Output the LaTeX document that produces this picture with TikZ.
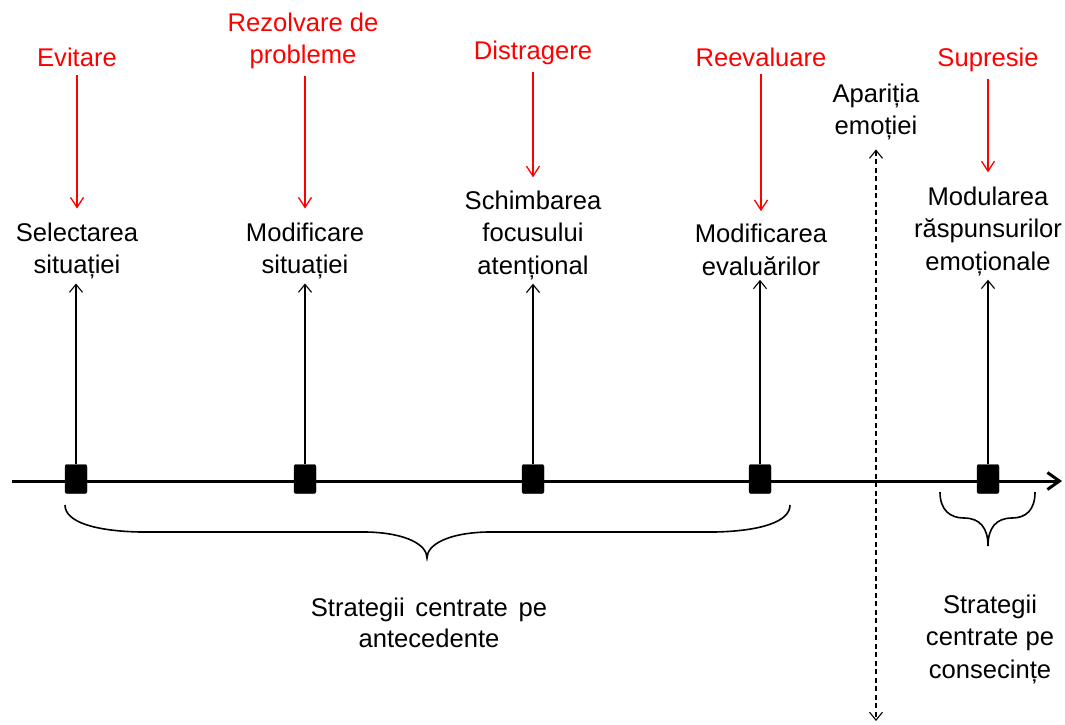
\documentclass[tikz,border=0pt]{standalone}
\usepackage{fontspec}
\setmainfont{Liberation Sans}
\usetikzlibrary{arrows.meta}
\definecolor{strategyred}{RGB}{255,0,0}
\newcommand{\widespacing}{\spaceskip=0.42em\relax}
\begin{document}
\begin{tikzpicture}[x=1pt,y=-1pt,
  lbl/.style={align=center,inner sep=0pt,font=\fontsize{25.6}{32.5}\selectfont},
  redlbl/.style={lbl,text=strategyred},
  stage/.style={fill=black,draw=black,minimum width=22pt,minimum height=29pt,inner sep=0pt,rounded corners=2pt},
  uparrow/.style={line width=1.1pt,-{Straight Barb[length=8pt,width=13pt]}},
  redarrow/.style={strategyred,line width=1.3pt,-{Straight Barb[length=10pt,width=13pt]}},
  timeline/.style={line width=3pt,-{Straight Barb[length=12pt,width=17pt,line width=3pt]}},
  bracepath/.style={line width=1.6pt}
]
\useasboundingbox (0,0) rectangle (1065,724);

% strategy names
\node[redlbl] (ev)  at (77,57)  {Evitare};
\node[redlbl] (rez) at (303,41) {Rezolvare de\\probleme};
\node[redlbl] (dis) at (533,53) {Distragere};
\node[redlbl] (ree) at (761,57) {Reevaluare};
\node[redlbl] (sup) at (988,60) {Supresie};

% process stages
\node[lbl] (sel) at (77,251)  {Selectarea\\situației};
\node[lbl] (mod) at (305,251) {Modificare\\situației};
\node[lbl] (sch) at (533,235) {Schimbarea\\focusului\\atențional};
\node[lbl] (mev) at (761,250) {Modificarea\\evaluărilor};
\node[lbl] (apa) at (876,112) {Apariția\\emoției};
\node[lbl] (mre) at (988,231) {Modularea\\răspunsurilor\\emoționale};

% group captions
\node[lbl,font={\fontsize{25.6}{31}\selectfont\widespacing}] (sca) at (429,623) {Strategii centrate pe\\antecedente};
\node[lbl] (scc) at (990,639) {Strategii\\centrate pe\\consecințe};

% time axis
\coordinate (axstart) at (12,481);
\coordinate (axend) at (1062,481);
\draw[timeline] (axstart) -- (axend);

% stage markers on the axis
\node[stage] (s1) at (76,479) {};
\node[stage] (s2) at (305,479) {};
\node[stage] (s3) at (533,479) {};
\node[stage] (s4) at (760,479) {};
\node[stage] (s5) at (988,479) {};

% markers point to the stages
\draw[uparrow,shorten >=4pt] (s1.north) -- (s1.north |- sel.south);
\draw[uparrow,shorten >=4pt] (s2.north) -- (s2.north |- mod.south);
\draw[uparrow,shorten >=4pt] (s3.north) -- (s3.north |- sch.south);
\draw[uparrow,shorten >=4pt] (s4.north) -- (s4.north |- mev.south);
\draw[uparrow,shorten >=4pt] (s5.north) -- (s5.north |- mre.south);

% strategies act on the stages
\draw[redarrow,shorten <=8pt,shorten >=14pt] (ev.south) -- (ev.south |- sel.north);
\draw[redarrow,shorten <=7pt,shorten >=14pt] (rez.south -| s2.north) -- (s2.north |- mod.north);
\draw[redarrow,shorten <=7pt,shorten >=13pt] (dis.south) -- (dis.south |- sch.north);
\draw[redarrow,shorten <=7pt,shorten >=13pt] (ree.south) -- (ree.south |- mev.north);
\draw[redarrow,shorten <=7pt,shorten >=14pt] (sup.south) -- (sup.south |- mre.north);

% emotion onset
\coordinate (dashend) at (876,721);
\draw[line width=1.1pt,dash pattern=on 5pt off 3.5pt,
  {Straight Barb[length=8pt,width=13pt]}-{Straight Barb[length=8pt,width=13pt]},
  shorten <=9pt] (apa.south) -- (dashend);

% braces grouping the strategies
\draw[bracepath] (65,505) .. controls (65,522) and (95,531) .. (140,532)
  -- (367,532) .. controls (407,533) and (427,545) .. (427,558)
  .. controls (427,545) and (447,533) .. (487,532)
  -- (715,532) .. controls (760,531) and (790,522) .. (790,505);
\draw[bracepath] (940,492) .. controls (940,510) and (950,518) .. (964,518)
  .. controls (980,518) and (988,528) .. (988,546)
  .. controls (988,528) and (996,518) .. (1012,518)
  .. controls (1026,518) and (1035,510) .. (1035,492);
\end{tikzpicture}
\end{document}
